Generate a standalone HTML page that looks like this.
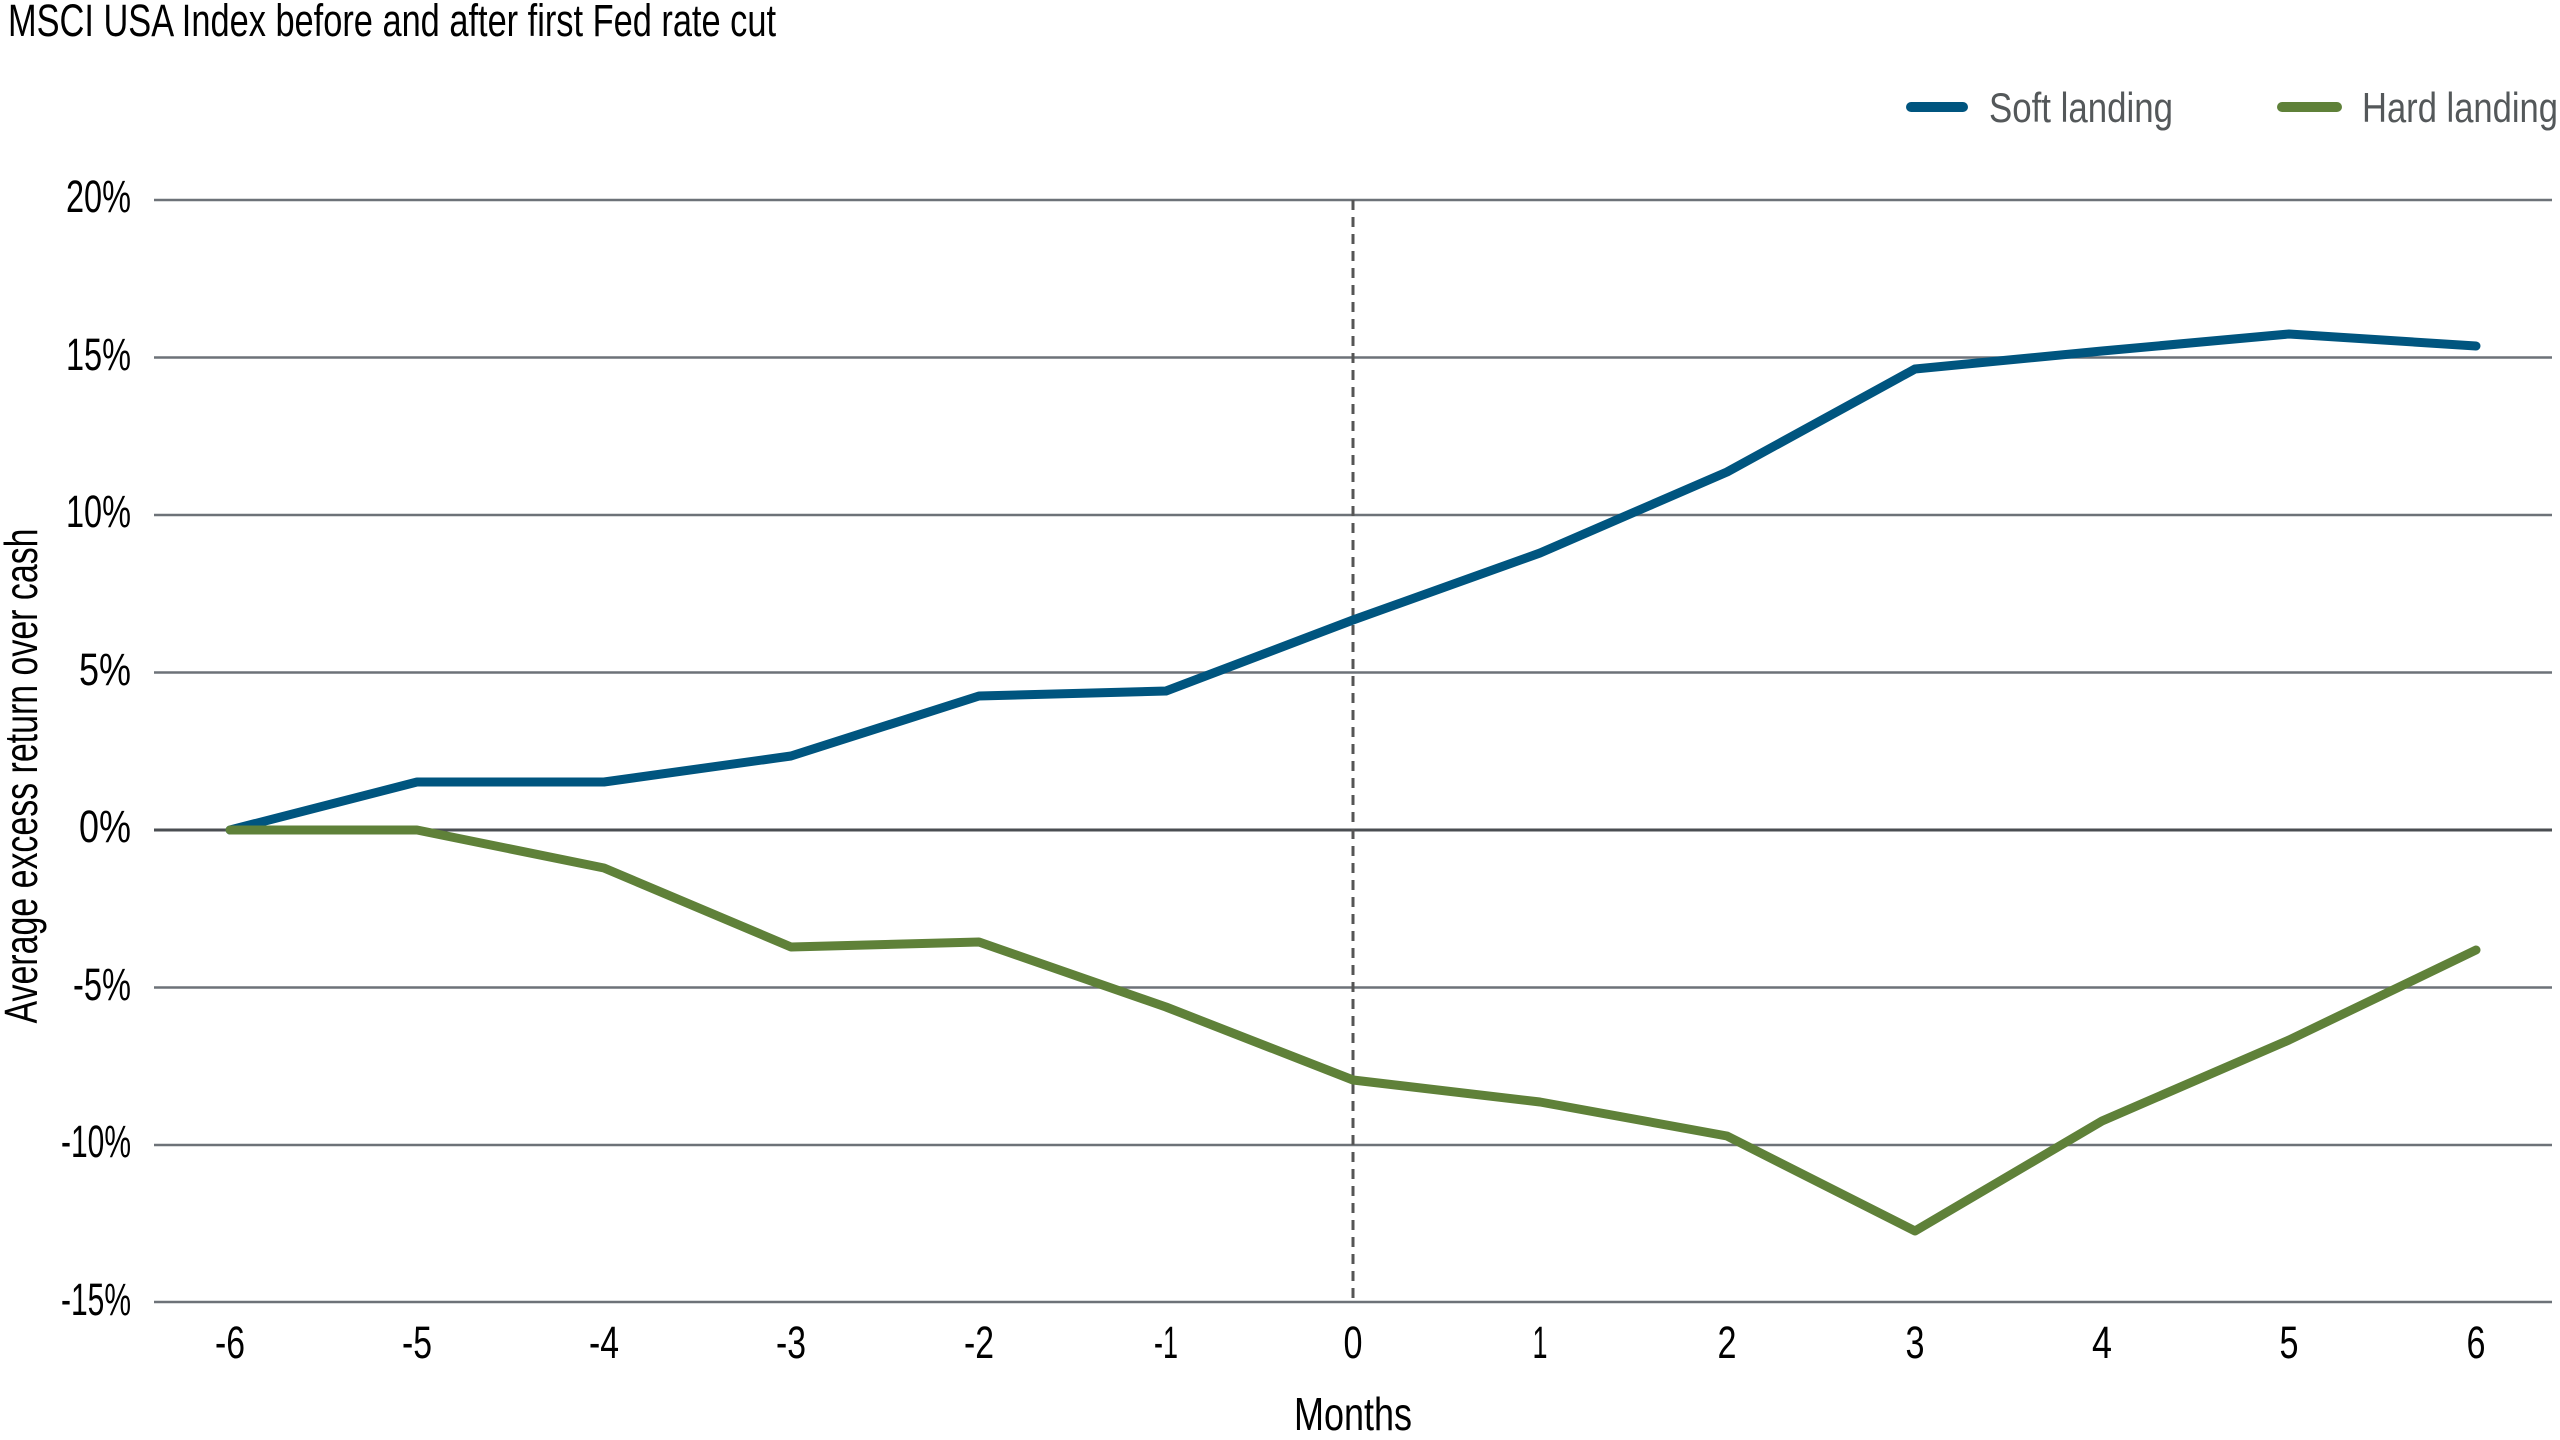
<!DOCTYPE html>
<html><head><meta charset="utf-8"><style>
html,body{margin:0;padding:0;background:#fff;}
svg{display:block;font-family:"Liberation Sans",sans-serif;}
</style></head><body>
<svg width="2560" height="1440" viewBox="0 0 2560 1440" xmlns="http://www.w3.org/2000/svg">
<text x="8" y="36" font-size="45" fill="#000" textLength="768" lengthAdjust="spacingAndGlyphs">MSCI USA Index before and after first Fed rate cut</text>
<!-- legend -->
<line x1="1911" y1="107" x2="1963" y2="107" stroke="#00557f" stroke-width="10" stroke-linecap="round"/>
<text x="1989" y="122" font-size="42" fill="#54585a" textLength="184" lengthAdjust="spacingAndGlyphs">Soft landing</text>
<line x1="2282" y1="107" x2="2337" y2="107" stroke="#5f8139" stroke-width="10" stroke-linecap="round"/>
<text x="2362" y="122" font-size="42" fill="#54585a" textLength="196" lengthAdjust="spacingAndGlyphs">Hard landing</text>
<!-- grid -->
<g stroke="#6d7278" stroke-width="2.5">
<line x1="154" y1="200" x2="2552" y2="200"/>
<line x1="154" y1="357.5" x2="2552" y2="357.5"/>
<line x1="154" y1="515" x2="2552" y2="515"/>
<line x1="154" y1="672.5" x2="2552" y2="672.5"/>
<line x1="154" y1="830" x2="2552" y2="830" stroke="#4a4e52" stroke-width="3"/>
<line x1="154" y1="987.5" x2="2552" y2="987.5"/>
<line x1="154" y1="1145" x2="2552" y2="1145"/>
<line x1="154" y1="1302" x2="2552" y2="1302"/>
</g>
<line x1="1353" y1="200" x2="1353" y2="1302" stroke="#555" stroke-width="3" stroke-dasharray="10,7"/>
<!-- y ticks -->
<g font-size="45" fill="#000" text-anchor="end">
<text x="131" y="212" textLength="65" lengthAdjust="spacingAndGlyphs">20%</text>
<text x="131" y="370" textLength="65" lengthAdjust="spacingAndGlyphs">15%</text>
<text x="131" y="527" textLength="65" lengthAdjust="spacingAndGlyphs">10%</text>
<text x="131" y="685" textLength="52" lengthAdjust="spacingAndGlyphs">5%</text>
<text x="131" y="842" textLength="52" lengthAdjust="spacingAndGlyphs">0%</text>
<text x="131" y="1000" textLength="58" lengthAdjust="spacingAndGlyphs">-5%</text>
<text x="131" y="1157" textLength="70" lengthAdjust="spacingAndGlyphs">-10%</text>
<text x="131" y="1315" textLength="70" lengthAdjust="spacingAndGlyphs">-15%</text>
</g>
<!-- x ticks -->
<g font-size="45" fill="#000" text-anchor="middle">
<text x="230" y="1358" textLength="30" lengthAdjust="spacingAndGlyphs">-6</text><text x="417" y="1358" textLength="30" lengthAdjust="spacingAndGlyphs">-5</text><text x="604" y="1358" textLength="30" lengthAdjust="spacingAndGlyphs">-4</text>
<text x="791" y="1358" textLength="30" lengthAdjust="spacingAndGlyphs">-3</text><text x="979" y="1358" textLength="30" lengthAdjust="spacingAndGlyphs">-2</text><text x="1166" y="1358" textLength="24" lengthAdjust="spacingAndGlyphs">-1</text>
<text x="1353" y="1358" textLength="19" lengthAdjust="spacingAndGlyphs">0</text><text x="1540" y="1358" textLength="15" lengthAdjust="spacingAndGlyphs">1</text><text x="1727" y="1358" textLength="19" lengthAdjust="spacingAndGlyphs">2</text>
<text x="1915" y="1358" textLength="19" lengthAdjust="spacingAndGlyphs">3</text><text x="2102" y="1358" textLength="20" lengthAdjust="spacingAndGlyphs">4</text><text x="2289" y="1358" textLength="19" lengthAdjust="spacingAndGlyphs">5</text>
<text x="2476" y="1358" textLength="19" lengthAdjust="spacingAndGlyphs">6</text>
</g>
<text x="1353" y="1430" font-size="46" text-anchor="middle" fill="#000" textLength="118" lengthAdjust="spacingAndGlyphs">Months</text>
<text transform="translate(37,776) rotate(-90)" font-size="46" text-anchor="middle" fill="#000" textLength="495" lengthAdjust="spacingAndGlyphs">Average excess return over cash</text>
<!-- series -->
<polyline fill="none" stroke="#00557f" stroke-width="9" stroke-linejoin="round" stroke-linecap="round"
points="230,830 417,782 604,782 791,756 979,696 1166,691 1353,620 1540,553 1727,472 1915,369 2102,351 2289,334 2476,346"/>
<polyline fill="none" stroke="#5f8139" stroke-width="9" stroke-linejoin="round" stroke-linecap="round"
points="230,830 417,830 604,868 791,947 979,942 1166,1007 1353,1080 1540,1102 1727,1136 1915,1231 2102,1121 2289,1040 2476,950"/>
</svg>
</body></html>
